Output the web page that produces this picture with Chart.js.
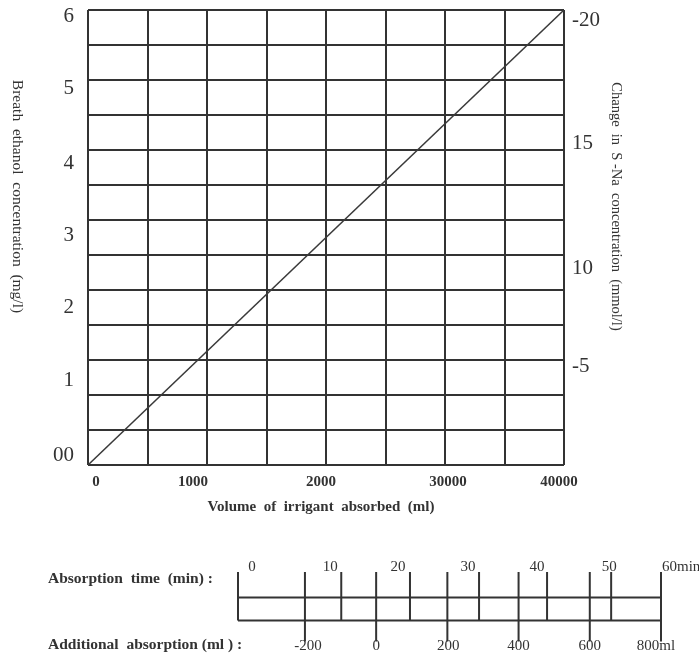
<!DOCTYPE html>
<html>
<head>
<meta charset="utf-8">
<script src="https://cdn.jsdelivr.net/npm/chart.js@4.4.1/dist/chart.umd.min.js"></script>
<style>
  html, body { margin: 0; padding: 0; background: #ffffff; }
  #wrap { position: relative; width: 699px; height: 654px; }
  #main { position: absolute; left: 0; top: 0; }
  #ruler { position: absolute; left: 0; top: 530px; }
</style>
</head>
<body>
<div id="wrap">
  <canvas id="main" width="699" height="530"></canvas>
  <canvas id="ruler" width="699" height="124"></canvas>
</div>
<script>
// ---------- data ----------
const lineX = [0, 4000];            // volume of irrigant absorbed (ml)
const lineY = [0, 6];               // breath ethanol concentration (mg/l)

// tick labels and the axis values at which they are printed in the picture
const xTickValues = [67, 882, 1958, 3025, 3958];
const xTickLabels = ['0', '1000', '2000', '30000', '40000'];

const leftTickValues = [0.13, 1.11, 2.08, 3.03, 3.98, 4.96, 5.92];
const leftTickLabels = ['00', '1', '2', '3', '4', '5', '6'];

const rightTickValues = [4.35, 8.66, 14.15, 19.56];
const rightTickLabels = ['-5', '10', '15', '-20'];

const gridCols = 8;   // vertical grid divisions
const gridRows = 13;  // horizontal grid divisions

// bottom nomogram ruler: additional absorption (ml) and absorption time (min)
const mlTicks  = [-200, 0, 200, 400, 600, 800];
const mlLabels = ['-200', '0', '200', '400', '600', '800ml'];
const timeLabels = ['0', '10', '20', '30', '40', '50', '60min'];
const timeAtMl   = [-388, -98, 95, 289, 480, 660, 800];  // ml value facing each time mark

// ---------- styles ----------
const INK = '#333333';
const SERIF = "'Liberation Serif', 'DejaVu Serif', serif";

// ---------- main chart ----------
const titlesPlugin = {
  id: 'titles',
  afterDraw(chart) {
    const ctx = chart.ctx;
    const a = chart.chartArea;
    ctx.save();
    ctx.fillStyle = INK;
    ctx.textAlign = 'center';
    ctx.textBaseline = 'middle';
    // left title (reads top-to-bottom)
    ctx.font = '15.5px ' + SERIF;
    ctx.save();
    ctx.translate(a.left - 71, (a.top + a.bottom) / 2 - 41);
    ctx.rotate(Math.PI / 2);
    ctx.fillText('Breath  ethanol  concentration  (mg/l)', 0, 0);
    ctx.restore();
    // right title
    ctx.font = '14.5px ' + SERIF;
    ctx.save();
    ctx.translate(a.right + 52, (a.top + a.bottom) / 2 - 31);
    ctx.rotate(Math.PI / 2);
    ctx.fillText('Change  in  S -Na  concentration  (mmol/l)', 0, 0);
    ctx.restore();
    // x title
    ctx.font = 'bold 15px ' + SERIF;
    ctx.fillText('Volume  of  irrigant  absorbed  (ml)', (a.left + a.right) / 2 - 5, a.bottom + 42);
    ctx.restore();
  }
};

const gridOpts = { display: true, color: INK, lineWidth: 2, drawTicks: false };
const noGrid = { display: false, drawTicks: false };

new Chart(document.getElementById('main'), {
  type: 'scatter',
  data: {
    datasets: [{
      data: lineX.map((x, i) => ({ x: x, y: lineY[i] })),
      showLine: true,
      borderColor: '#3a3a3a',
      borderWidth: 1.5,
      pointRadius: 0,
      xAxisID: 'x',
      yAxisID: 'y'
    }]
  },
  options: {
    responsive: false,
    animation: false,
    devicePixelRatio: 1,
    layout: { padding: { top: 10, left: 0, right: 0, bottom: 0 } },
    plugins: { legend: { display: false }, tooltip: { enabled: false } },
    scales: {
      xg: {
        type: 'linear', position: 'bottom', weight: 0,
        min: 0, max: 4000,
        ticks: { display: false, stepSize: 4000 / gridCols },
        grid: gridOpts, border: { display: false },
        afterFit(s) { s.height = 0; s.paddingLeft = 0; s.paddingRight = 0; }
      },
      x: {
        type: 'linear', position: 'bottom', weight: 1,
        min: 0, max: 4000,
        afterBuildTicks(s) { s.ticks = xTickValues.map(v => ({ value: v })); },
        ticks: {
          autoSkip: false, maxRotation: 0, padding: 8, color: INK,
          font: { family: SERIF, size: 15, weight: 'bold' },
          callback: v => xTickLabels[xTickValues.indexOf(v)]
        },
        grid: noGrid, border: { display: false },
        afterFit(s) { s.height = 65; s.paddingLeft = 0; s.paddingRight = 0; }
      },
      yg: {
        type: 'linear', position: 'left', weight: 0,
        min: 0, max: gridRows,
        ticks: { display: false, stepSize: 1 },
        grid: gridOpts, border: { display: false },
        afterFit(s) { s.width = 0; s.paddingTop = 0; s.paddingBottom = 0; }
      },
      y: {
        type: 'linear', position: 'left', weight: 1,
        min: 0, max: 6,
        afterBuildTicks(s) { s.ticks = leftTickValues.map(v => ({ value: v })); },
        ticks: {
          autoSkip: false, padding: 14, color: INK,
          font: { family: SERIF, size: 21, lineHeight: 0.9 },
          callback: v => leftTickLabels[leftTickValues.indexOf(v)]
        },
        grid: noGrid, border: { display: false },
        afterFit(s) { s.width = 88; s.paddingTop = 0; s.paddingBottom = 0; }
      },
      y2: {
        type: 'linear', position: 'right', weight: 1,
        min: 0, max: 20,
        afterBuildTicks(s) { s.ticks = rightTickValues.map(v => ({ value: v })); },
        ticks: {
          autoSkip: false, padding: 8, color: INK,
          font: { family: SERIF, size: 21, lineHeight: 0.9 },
          callback: v => rightTickLabels[rightTickValues.indexOf(v)]
        },
        grid: noGrid, border: { display: false },
        afterFit(s) { s.width = 135; s.paddingTop = 0; s.paddingBottom = 0; }
      }
    }
  },
  plugins: [titlesPlugin]
});

// ---------- bottom ruler chart ----------
const TOP = 2.1, ML_BOTTOM = -0.9;
function segs(xs, y0, y1) {
  const out = [];
  xs.forEach(x => { out.push({ x: x, y: y0 }, { x: x, y: y1 }, { x: x, y: null }); });
  return out;
}
const xMin = timeAtMl[0], xMax = timeAtMl[timeAtMl.length - 1];
const segStyle = { showLine: true, borderColor: INK, borderWidth: 2, pointRadius: 0, spanGaps: false, clip: false };

const rulerLabels = {
  id: 'rulerLabels',
  afterDraw(chart) {
    const ctx = chart.ctx;
    const xs = chart.scales.x;
    ctx.save();
    ctx.fillStyle = INK;
    ctx.textBaseline = 'middle';
    ctx.font = 'bold 15.5px ' + SERIF;
    ctx.textAlign = 'left';
    ctx.fillText('Absorption  time  (min) :', 48, 49);
    ctx.fillText('Additional  absorption (ml ) :', 48, 115);

    ctx.font = '15px ' + SERIF;
    const tShift = [14, -11, -12, -11, -10, -2, 0];
    timeLabels.forEach((t, i) => {
      const px = xs.getPixelForValue(timeAtMl[i]);
      if (i === timeLabels.length - 1) { ctx.textAlign = 'left'; ctx.fillText(t, px + 1, 37); }
      else { ctx.textAlign = 'center'; ctx.fillText(t, px + tShift[i], 37); }
    });
    const mShift = [3, 0, 1, 0, 0, -5];
    ctx.textAlign = 'center';
    mlLabels.forEach((t, i) => {
      const px = xs.getPixelForValue(mlTicks[i]);
      ctx.fillText(t, px + mShift[i], 116);
    });
    ctx.restore();
  }
};

new Chart(document.getElementById('ruler'), {
  type: 'scatter',
  data: {
    datasets: [
      Object.assign({ data: [{ x: xMin, y: 1 }, { x: xMax, y: 1 }] }, segStyle),
      Object.assign({ data: [{ x: xMin, y: 0 }, { x: xMax, y: 0 }] }, segStyle),
      Object.assign({ data: segs(timeAtMl, TOP, 0) }, segStyle),
      Object.assign({ data: segs(mlTicks, TOP, ML_BOTTOM) }, segStyle)
    ]
  },
  options: {
    responsive: false,
    animation: false,
    devicePixelRatio: 1,
    layout: { padding: { left: 238, right: 38, top: 42, bottom: 8 } },
    plugins: { legend: { display: false }, tooltip: { enabled: false } },
    scales: {
      x: { type: 'linear', display: false, min: xMin, max: xMax },
      y: { type: 'linear', display: false, min: -1.1, max: 2.1 }
    }
  },
  plugins: [rulerLabels]
});
</script>
</body>
</html>
